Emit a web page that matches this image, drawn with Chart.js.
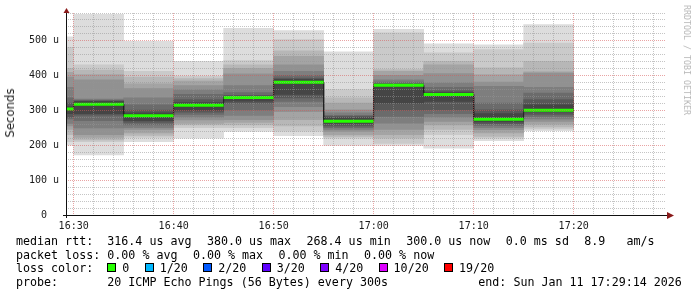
<!DOCTYPE html>
<html>
<head>
<meta charset="utf-8">
<script src="https://cdn.jsdelivr.net/npm/chart.js@4.4.1/dist/chart.umd.min.js"></script>
<style>
  html, body { margin: 0; padding: 0; background: #fff; }
  #wrap { position: relative; width: 697px; height: 297px; overflow: hidden; font-family: 'DejaVu Sans Mono', monospace; }
  #wrap canvas { position: absolute; left: 0; top: 0; }
  .ylabel { position: absolute; left: 10px; top: 113px; transform: translate(-50%, -50%) rotate(-90deg);
            font-family: 'DejaVu Sans', sans-serif; font-size: 11.7px; color: #222; white-space: nowrap; }
  .mark { position: absolute; left: 687px; top: 60px; transform: translate(-50%, -50%) rotate(90deg);
          font-size: 8.3px; color: #b8b8b8; white-space: nowrap; }
  .legend { position: absolute; left: 16px; top: 235px; font-size: 11.67px; line-height: 13.67px; color: #000; }
  .row { position: relative; height: 13.67px; white-space: pre; }
  .lbl { display: inline-block; width: 91.3px; }
  .item + .item { margin-left: 15.4px; }
  .box { display: inline-block; width: 7px; height: 7px; border: 1px solid #000; margin-right: 6px; }
  .end { position: absolute; left: 462.3px; top: 0; }
</style>
</head>
<body>
<div id="wrap">
  <canvas id="smoke" width="697" height="297"></canvas>
  <div class="ylabel">Seconds</div>
  <div class="mark">RRDTOOL / TOBI OETIKER</div>
  <div class="legend" id="legend"></div>
</div>
<script>
// end of each 5 minute step (value covers the 5 minutes before it)
const stepEnds = ['16:30', '16:35', '16:40', '16:45', '16:50', '16:55', '17:00', '17:05', '17:10', '17:15', '17:20'];
const stepMin = 5;
const endTime = '17:29:14';
const xTickLabels = ['16:30', '16:40', '16:50', '17:00', '17:10', '17:20'];

// median rtt per step, microseconds
const medians = [303, 317, 284, 314, 336, 380, 268.4, 371, 345, 274, 300];

// 20 sorted ping rtts per step, microseconds
const pings = [
    [200, 210, 230, 245, 255, 262, 275, 280, 290, 300, 305, 310, 320, 335, 365, 395, 408, 420, 480, 510],
    [172, 210, 215, 222, 230, 249, 270, 286, 290, 314, 320, 325, 327, 329, 332, 387, 402, 415, 430, 574],
    [210, 222, 228, 235, 245, 250, 258, 265, 270, 281, 287, 292, 300, 315, 335, 362, 375, 395, 411, 497],
    [220, 250, 258, 262, 272, 280, 288, 294, 300, 311, 317, 322, 330, 345, 358, 370, 383, 390, 397, 440],
    [239, 250, 258, 265, 273, 285, 300, 320, 326, 334, 338, 340, 342, 350, 370, 404, 420, 430, 442, 534],
    [227, 240, 255, 273, 296, 310, 325, 335, 345, 378, 382, 388, 392, 400, 411, 430, 454, 470, 502, 528],
    [199, 220, 225, 230, 239, 245, 250, 255, 262, 266, 270.8, 278, 282, 285, 292, 301, 320, 335, 359, 467],
    [199, 205, 220, 230, 245, 263, 282, 300, 320, 370, 372, 373, 376, 380, 387, 400, 411, 416, 521, 531],
    [191, 230, 245, 258, 268, 280, 290, 301, 325, 343, 347, 350, 355, 365, 378, 405, 430, 440, 464, 490],
    [213, 220, 225, 235, 244, 250, 256, 261, 266, 272, 276, 290, 301, 320, 368, 380, 402, 421, 473, 487],
    [241, 246, 252, 260, 268, 275, 282, 288, 295, 298, 302, 315, 330, 349, 365, 406, 410, 440, 492, 545]
];

// smoke shades, outer pair of pings to inner pair
const bandGrays = ['#dddddd', '#cacaca', '#b7b7b7', '#a4a4a4', '#919191', '#7e7e7e', '#6b6b6b', '#585858', '#454545', '#323232'];

const yMax = 578;
const yMajor = 100;
const xMajor = 10;

// legend text
const rttLegend = ['316.4 us avg', '380.0 us max', '268.4 us min', '300.0 us now', '0.0 ms sd', '8.9   am/s'];
const lossLegend = ['0.00 % avg', '0.00 % max', '0.00 % min', '0.00 % now'];
const lossLabels = ['0', '1/20', '2/20', '3/20', '4/20', '10/20', '19/20'];
const lossColors = ['#26ff00', '#00b8ff', '#0059ff', '#5e00ff', '#7e00ff', '#dd00ff', '#ff0000'];
const probeText = '20 ICMP Echo Pings (56 Bytes) every 300s';
const endText = 'end: Sun Jan 11 17:29:14 2026';

// minutes after 16:30
const toMin = t => {
    const [h, m, s = 0] = t.split(':').map(Number);
    return (h - 16) * 60 + (m - 30) + s / 60;
};
const fmtTime = v => {
    const total = Math.round(16 * 60 + 30 + v);
    return String(Math.floor(total / 60)).padStart(2, '0') + ':' + String(total % 60).padStart(2, '0');
};

const xMax = toMin(endTime);
const xMin = xMax - 60;
const majorGrid = 'rgba(215, 90, 90, 0.55)';
const minorGrid = 'rgba(150, 150, 150, 0.55)';
const tickFont = { family: 'DejaVu Sans Mono', size: 10 };
const isMajor = (c, step) => c.tick && Math.abs(c.tick.value % step) < 1e-6;

const centers = stepEnds.map(t => toMin(t) - stepMin / 2);

const bandSets = bandGrays.map((c, k) => ({
    type: 'bar',
    data: pings.map((p, i) => ({ x: centers[i], y: [p[k], p[19 - k]] })),
    backgroundColor: c,
    borderWidth: 0,
    grouped: false,
    barPercentage: 1,
    categoryPercentage: 1,
    clip: 0,
    order: 20 - k
}));

// black step line and green (0 loss) median segments
const medianPath = [];
const medianSegs = [];
medians.forEach((m, i) => {
    const end = toMin(stepEnds[i]);
    const start = end - stepMin;
    medianPath.push({ x: start, y: m }, { x: end, y: m });
    medianSegs.push({ x: start, y: m }, { x: end, y: m }, { x: end, y: null });
});

const axesPlugin = {
    id: 'rrdAxes',
    afterDraw(chart) {
        const { ctx, chartArea: a } = chart;
        ctx.save();
        ctx.strokeStyle = '#111';
        ctx.lineWidth = 1;
        ctx.beginPath();
        ctx.moveTo(a.left - 3, a.bottom + 0.5);
        ctx.lineTo(a.right + 1, a.bottom + 0.5);
        ctx.moveTo(a.left + 0.5, a.bottom + 3);
        ctx.lineTo(a.left + 0.5, a.top);
        ctx.stroke();
        ctx.fillStyle = '#8a1a1a';
        ctx.beginPath();
        ctx.moveTo(a.left - 2.5, a.top);
        ctx.lineTo(a.left + 3.5, a.top);
        ctx.lineTo(a.left + 0.5, a.top - 5);
        ctx.closePath();
        ctx.fill();
        ctx.beginPath();
        ctx.moveTo(a.right + 1, a.bottom - 3);
        ctx.lineTo(a.right + 1, a.bottom + 4);
        ctx.lineTo(a.right + 8, a.bottom + 0.5);
        ctx.closePath();
        ctx.fill();
        ctx.restore();
    }
};

new Chart(document.getElementById('smoke'), {
    type: 'bar',
    data: {
        datasets: [
            ...bandSets,
            {
                type: 'line',
                data: medianPath,
                borderColor: '#202020',
                borderWidth: 1,
                pointRadius: 0,
                tension: 0,
                clip: 0,
                order: 1
            },
            {
                type: 'line',
                data: medianSegs,
                borderColor: '#26ff00',
                borderWidth: 3,
                borderCapStyle: 'butt',
                pointRadius: 0,
                tension: 0,
                spanGaps: false,
                clip: 0,
                order: 0
            }
        ]
    },
    options: {
        responsive: false,
        animation: false,
        events: [],
        layout: { padding: { top: 13, right: 31, left: 0, bottom: 0 } },
        plugins: { legend: { display: false }, tooltip: { enabled: false } },
        scales: {
            x: {
                type: 'linear',
                offset: false,
                bounds: 'data',
                min: xMin,
                max: xMax,
                afterFit: s => { s.height = 82; },
                afterBuildTicks: s => { s.ticks = xTickLabels.map(t => ({ value: toMin(t) })); },
                ticks: {
                    padding: 5,
                    maxRotation: 0,
                    autoSkip: false,
                    color: '#1a1a1a',
                    font: tickFont,
                    callback: v => fmtTime(v)
                },
                grid: { drawTicks: false, offset: false, color: majorGrid, z: 1 },
                border: { display: false, dash: [1, 1] }
            },
            xMinor: {
                type: 'linear',
                axis: 'x',
                position: 'bottom',
                offset: false,
                bounds: 'data',
                min: xMin,
                max: xMax,
                afterFit: s => { s.height = 0; },
                afterBuildTicks: s => {
                    const ticks = [];
                    for (let v = Math.ceil(xMin / 2) * 2; v < xMax; v += 2) ticks.push({ value: v });
                    s.ticks = ticks;
                },
                ticks: { display: false, autoSkip: false },
                grid: {
                    drawTicks: false,
                    offset: false,
                    z: 1,
                    color: c => isMajor(c, xMajor) ? 'rgba(0,0,0,0)' : minorGrid
                },
                border: { display: false, dash: [1, 1] }
            },
            y: {
                bounds: 'data',
                min: 0,
                max: yMax,
                afterFit: s => { s.width = 66; },
                ticks: {
                    stepSize: 20,
                    includeBounds: false,
                    autoSkip: false,
                    padding: 7,
                    color: '#1a1a1a',
                    font: tickFont,
                    callback: v => v % yMajor === 0 ? (v === 0 ? '0  ' : v + ' u') : ''
                },
                grid: {
                    drawTicks: false,
                    z: 1,
                    color: c => isMajor(c, yMajor) ? majorGrid : minorGrid
                },
                border: { display: false, dash: [1, 1] }
            }
        }
    },
    plugins: [axesPlugin]
});

// text legend under the graph
const legend = document.getElementById('legend');
function addRow(label, items) {
    const row = document.createElement('div');
    row.className = 'row';
    const lbl = document.createElement('span');
    lbl.className = 'lbl';
    lbl.textContent = label;
    row.appendChild(lbl);
    items.forEach(it => {
        const span = document.createElement('span');
        span.className = 'item';
        if (it.color) {
            const box = document.createElement('span');
            box.className = 'box';
            box.style.background = it.color;
            span.appendChild(box);
        }
        span.appendChild(document.createTextNode(it.text));
        row.appendChild(span);
    });
    legend.appendChild(row);
    return row;
}
addRow('median rtt:', rttLegend.map(t => ({ text: t })));
addRow('packet loss:', lossLegend.map(t => ({ text: t })));
addRow('loss color:', lossLabels.map((t, i) => ({ text: t, color: lossColors[i] })));
const probeRow = addRow('probe:', [{ text: probeText }]);
const endSpan = document.createElement('span');
endSpan.className = 'end';
endSpan.textContent = endText;
probeRow.appendChild(endSpan);
</script>
</body>
</html>
